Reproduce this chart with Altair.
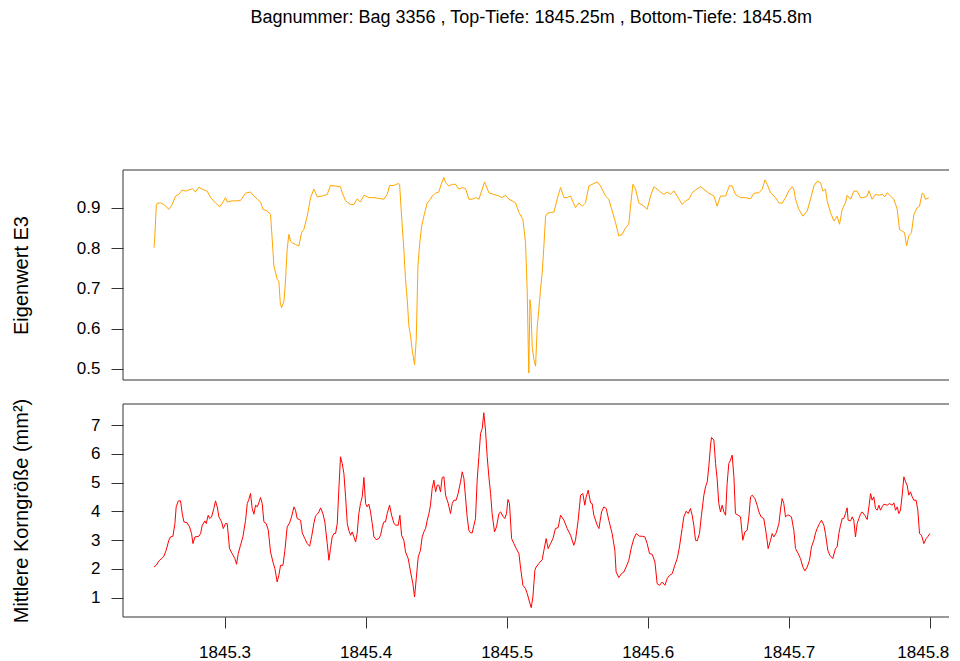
import altair as alt
import pandas as pd

FONT = "Liberation Sans"

title_text = "Bagnummer: Bag 3356 , Top-Tiefe: 1845.25m , Bottom-Tiefe: 1845.8m"
x_ticks = [1845.3, 1845.4, 1845.5, 1845.6, 1845.7, 1845.8]
top_ticks = [0.5, 0.6, 0.7, 0.8, 0.9]
bot_ticks = [1, 2, 3, 4, 5, 6, 7]

top_depth = [
    1845.2500, 1845.2505, 1845.2516, 1845.2523, 1845.2546, 1845.2570, 1845.2605, 1845.2629, 1845.2653, 1845.2676,
    1845.2700, 1845.2724, 1845.2747, 1845.2771, 1845.2794, 1845.2818, 1845.2842, 1845.2877, 1845.2901, 1845.2936,
    1845.2965, 1845.2983, 1845.3007, 1845.3019, 1845.3054, 1845.3090, 1845.3113, 1845.3149, 1845.3184, 1845.3208,
    1845.3232, 1845.3255, 1845.3272, 1845.3302, 1845.3326, 1845.3338, 1845.3350, 1845.3362, 1845.3373, 1845.3385,
    1845.3395, 1845.3404, 1845.3421, 1845.3432, 1845.3444, 1845.3456, 1845.3468, 1845.3480, 1845.3503, 1845.3527,
    1845.3546, 1845.3562, 1845.3586, 1845.3610, 1845.3633, 1845.3657, 1845.3692, 1845.3728, 1845.3751, 1845.3787,
    1845.3822, 1845.3834, 1845.3858, 1845.3893, 1845.3917, 1845.3940, 1845.3964, 1845.3988, 1845.4023, 1845.4059,
    1845.4094, 1845.4130, 1845.4153, 1845.4170, 1845.4200, 1845.4231, 1845.4241, 1845.4255, 1845.4271, 1845.4283,
    1845.4295, 1845.4307, 1845.4319, 1845.4330, 1845.4347, 1845.4359, 1845.4371, 1845.4382, 1845.4397, 1845.4413,
    1845.4437, 1845.4460, 1845.4472, 1845.4496, 1845.4519, 1845.4536, 1845.4555, 1845.4567, 1845.4590, 1845.4614,
    1845.4638, 1845.4661, 1845.4685, 1845.4709, 1845.4732, 1845.4756, 1845.4779, 1845.4803, 1845.4827, 1845.4843,
    1845.4850, 1845.4874, 1845.4909, 1845.4945, 1845.4968, 1845.4992, 1845.5016, 1845.5039, 1845.5063, 1845.5087,
    1845.5115, 1845.5134, 1845.5146, 1845.5153, 1845.5157, 1845.5165, 1845.5172, 1845.5181, 1845.5193, 1845.5205,
    1845.5217, 1845.5228, 1845.5240, 1845.5252, 1845.5264, 1845.5276, 1845.5288, 1845.5311, 1845.5335, 1845.5358,
    1845.5382, 1845.5406, 1845.5429, 1845.5453, 1845.5488, 1845.5512, 1845.5536, 1845.5559, 1845.5583, 1845.5618,
    1845.5642, 1845.5665, 1845.5701, 1845.5724, 1845.5748, 1845.5772, 1845.5795, 1845.5819, 1845.5843, 1845.5866,
    1845.5878, 1845.5895, 1845.5914, 1845.5937, 1845.5973, 1845.5996, 1845.6020, 1845.6044, 1845.6067, 1845.6091,
    1845.6114, 1845.6138, 1845.6162, 1845.6185, 1845.6209, 1845.6244, 1845.6268, 1845.6292, 1845.6315, 1845.6339,
    1845.6374, 1845.6398, 1845.6433, 1845.6469, 1845.6492, 1845.6516, 1845.6552, 1845.6580, 1845.6599, 1845.6622,
    1845.6658, 1845.6693, 1845.6729, 1845.6753, 1845.6788, 1845.6812, 1845.6831, 1845.6847, 1845.6871, 1845.6906,
    1845.6930, 1845.6953, 1845.6977, 1845.7001, 1845.7024, 1845.7036, 1845.7048, 1845.7072, 1845.7100, 1845.7131,
    1845.7154, 1845.7178, 1845.7202, 1845.7225, 1845.7242, 1845.7260, 1845.7272, 1845.7296, 1845.7320, 1845.7343,
    1845.7360, 1845.7379, 1845.7402, 1845.7414, 1845.7438, 1845.7461, 1845.7485, 1845.7509, 1845.7532, 1845.7556,
    1845.7568, 1845.7591, 1845.7615, 1845.7639, 1845.7662, 1845.7681, 1845.7698, 1845.7721, 1845.7745, 1845.7769,
    1845.7785, 1845.7804, 1845.7821, 1845.7835, 1845.7851, 1845.7870, 1845.7887, 1845.7910, 1845.7927, 1845.7946,
    1845.7958, 1845.7969, 1845.7993,
]
top_e3 = [
    0.801, 0.826, 0.906, 0.911, 0.912, 0.908, 0.896, 0.908, 0.929, 0.933,
    0.944, 0.941, 0.944, 0.947, 0.939, 0.951, 0.946, 0.941, 0.925, 0.912,
    0.902, 0.911, 0.925, 0.914, 0.917, 0.917, 0.918, 0.936, 0.939, 0.929,
    0.921, 0.914, 0.896, 0.892, 0.883, 0.821, 0.755, 0.739, 0.722, 0.718,
    0.664, 0.652, 0.668, 0.718, 0.797, 0.834, 0.817, 0.813, 0.809, 0.805,
    0.838, 0.846, 0.879, 0.925, 0.946, 0.927, 0.929, 0.933, 0.955, 0.954,
    0.952, 0.937, 0.917, 0.908, 0.908, 0.922, 0.914, 0.931, 0.925, 0.925,
    0.923, 0.921, 0.933, 0.955, 0.955, 0.960, 0.958, 0.879, 0.797, 0.722,
    0.672, 0.606, 0.581, 0.548, 0.511, 0.573, 0.755, 0.805, 0.854, 0.879,
    0.912, 0.921, 0.929, 0.936, 0.939, 0.958, 0.975, 0.962, 0.954, 0.958,
    0.958, 0.946, 0.950, 0.947, 0.921, 0.921, 0.925, 0.921, 0.946, 0.964,
    0.958, 0.937, 0.933, 0.929, 0.925, 0.931, 0.921, 0.917, 0.912, 0.888,
    0.871, 0.813, 0.689, 0.556, 0.490, 0.672, 0.648, 0.556, 0.523, 0.507,
    0.606, 0.648, 0.697, 0.739, 0.805, 0.879, 0.886, 0.888, 0.889, 0.921,
    0.950, 0.925, 0.925, 0.929, 0.900, 0.912, 0.904, 0.912, 0.954, 0.960,
    0.964, 0.954, 0.929, 0.921, 0.892, 0.863, 0.830, 0.834, 0.850, 0.859,
    0.904, 0.958, 0.946, 0.912, 0.904, 0.896, 0.929, 0.952, 0.946, 0.939,
    0.933, 0.939, 0.933, 0.942, 0.929, 0.908, 0.917, 0.921, 0.937, 0.944,
    0.952, 0.946, 0.936, 0.929, 0.904, 0.929, 0.929, 0.955, 0.954, 0.933,
    0.925, 0.925, 0.922, 0.936, 0.937, 0.946, 0.969, 0.958, 0.937, 0.925,
    0.912, 0.911, 0.925, 0.942, 0.952, 0.946, 0.921, 0.896, 0.879, 0.892,
    0.921, 0.954, 0.966, 0.962, 0.941, 0.946, 0.917, 0.888, 0.867, 0.879,
    0.859, 0.896, 0.912, 0.931, 0.921, 0.941, 0.941, 0.925, 0.925, 0.929,
    0.942, 0.921, 0.933, 0.931, 0.933, 0.927, 0.937, 0.929, 0.921, 0.896,
    0.846, 0.842, 0.838, 0.805, 0.830, 0.838, 0.883, 0.900, 0.904, 0.936,
    0.933, 0.921, 0.925,
]

bot_depth = [
    1845.2500, 1845.2516, 1845.2530, 1845.2539, 1845.2553, 1845.2570, 1845.2586, 1845.2605, 1845.2617, 1845.2634,
    1845.2648, 1845.2657, 1845.2672, 1845.2688, 1845.2700, 1845.2712, 1845.2735, 1845.2752, 1845.2766, 1845.2776,
    1845.2790, 1845.2818, 1845.2830, 1845.2842, 1845.2861, 1845.2870, 1845.2884, 1845.2894, 1845.2908, 1845.2924,
    1845.2936, 1845.2948, 1845.2960, 1845.2979, 1845.2991, 1845.3007, 1845.3019, 1845.3035, 1845.3054, 1845.3073,
    1845.3085, 1845.3097, 1845.3113, 1845.3130, 1845.3149, 1845.3161, 1845.3172, 1845.3184, 1845.3196, 1845.3208,
    1845.3220, 1845.3232, 1845.3243, 1845.3255, 1845.3267, 1845.3279, 1845.3295, 1845.3310, 1845.3326, 1845.3343,
    1845.3357, 1845.3373, 1845.3385, 1845.3397, 1845.3414, 1845.3428, 1845.3444, 1845.3461, 1845.3475, 1845.3492,
    1845.3503, 1845.3515, 1845.3539, 1845.3551, 1845.3569, 1845.3586, 1845.3603, 1845.3617, 1845.3633, 1845.3645,
    1845.3657, 1845.3669, 1845.3681, 1845.3697, 1845.3711, 1845.3728, 1845.3740, 1845.3751, 1845.3763, 1845.3775,
    1845.3787, 1845.3799, 1845.3810, 1845.3822, 1845.3834, 1845.3846, 1845.3858, 1845.3870, 1845.3881, 1845.3893,
    1845.3905, 1845.3917, 1845.3929, 1845.3940, 1845.3952, 1845.3964, 1845.3976, 1845.3988, 1845.4000, 1845.4011,
    1845.4023, 1845.4035, 1845.4047, 1845.4059, 1845.4075, 1845.4094, 1845.4106, 1845.4118, 1845.4130, 1845.4141,
    1845.4153, 1845.4170, 1845.4184, 1845.4200, 1845.4212, 1845.4231, 1845.4243, 1845.4255, 1845.4271, 1845.4283,
    1845.4302, 1845.4319, 1845.4335, 1845.4347, 1845.4359, 1845.4373, 1845.4389, 1845.4401, 1845.4413, 1845.4425,
    1845.4437, 1845.4449, 1845.4460, 1845.4472, 1845.4484, 1845.4496, 1845.4508, 1845.4519, 1845.4531, 1845.4543,
    1845.4555, 1845.4567, 1845.4586, 1845.4602, 1845.4614, 1845.4626, 1845.4642, 1845.4656, 1845.4673, 1845.4685,
    1845.4697, 1845.4708, 1845.4720, 1845.4732, 1845.4744, 1845.4756, 1845.4768, 1845.4779, 1845.4791, 1845.4803,
    1845.4815, 1845.4827, 1845.4838, 1845.4850, 1845.4862, 1845.4874, 1845.4886, 1845.4897, 1845.4914, 1845.4928,
    1845.4945, 1845.4957, 1845.4973, 1845.4987, 1845.4999, 1845.5009, 1845.5020, 1845.5035, 1845.5051, 1845.5068,
    1845.5087, 1845.5098, 1845.5115, 1845.5134, 1845.5146, 1845.5162, 1845.5174, 1845.5186, 1845.5200, 1845.5209,
    1845.5228, 1845.5252, 1845.5264, 1845.5280, 1845.5294, 1845.5311, 1845.5328, 1845.5346, 1845.5365, 1845.5382,
    1845.5406, 1845.5429, 1845.5453, 1845.5476, 1845.5488, 1845.5507, 1845.5524, 1845.5540, 1845.5554, 1845.5564,
    1845.5578, 1845.5595, 1845.5606, 1845.5618, 1845.5642, 1845.5654, 1845.5673, 1845.5689, 1845.5706, 1845.5724,
    1845.5748, 1845.5767, 1845.5776, 1845.5795, 1845.5814, 1845.5831, 1845.5847, 1845.5866, 1845.5885, 1845.5902,
    1845.5918, 1845.5942, 1845.5961, 1845.5980, 1845.5996, 1845.6013, 1845.6032, 1845.6051, 1845.6067, 1845.6084,
    1845.6103, 1845.6122, 1845.6138, 1845.6155, 1845.6174, 1845.6192, 1845.6209, 1845.6225, 1845.6244, 1845.6256,
    1845.6273, 1845.6287, 1845.6303, 1845.6315, 1845.6327, 1845.6339, 1845.6351, 1845.6367, 1845.6381, 1845.6398,
    1845.6410, 1845.6422, 1845.6433, 1845.6445, 1845.6452, 1845.6469, 1845.6481, 1845.6492, 1845.6504, 1845.6516,
    1845.6528, 1845.6540, 1845.6552, 1845.6563, 1845.6575, 1845.6587, 1845.6599, 1845.6611, 1845.6622, 1845.6641,
    1845.6658, 1845.6674, 1845.6689, 1845.6705, 1845.6717, 1845.6729, 1845.6741, 1845.6760, 1845.6776, 1845.6788,
    1845.6804, 1845.6823, 1845.6840, 1845.6854, 1845.6871, 1845.6882, 1845.6894, 1845.6911, 1845.6930, 1845.6941,
    1845.6953, 1845.6965, 1845.6977, 1845.6989, 1845.7001, 1845.7019, 1845.7036, 1845.7048, 1845.7067, 1845.7083,
    1845.7100, 1845.7114, 1845.7131, 1845.7147, 1845.7161, 1845.7178, 1845.7190, 1845.7201, 1845.7218, 1845.7232,
    1845.7249, 1845.7260, 1845.7277, 1845.7291, 1845.7312, 1845.7331, 1845.7343, 1845.7355, 1845.7367, 1845.7379,
    1845.7390, 1845.7402, 1845.7414, 1845.7421, 1845.7438, 1845.7450, 1845.7461, 1845.7473, 1845.7485, 1845.7497,
    1845.7509, 1845.7520, 1845.7539, 1845.7556, 1845.7568, 1845.7580, 1845.7591, 1845.7603, 1845.7615, 1845.7627,
    1845.7639, 1845.7650, 1845.7662, 1845.7674, 1845.7698, 1845.7714, 1845.7733, 1845.7745, 1845.7757, 1845.7769,
    1845.7780, 1845.7792, 1845.7804, 1845.7816, 1845.7828, 1845.7839, 1845.7851, 1845.7863, 1845.7875, 1845.7887,
    1845.7903, 1845.7915, 1845.7927, 1845.7941, 1845.7958, 1845.7974, 1845.7988, 1845.8000,
]
bot_size = [
    2.067, 2.125, 2.241, 2.299, 2.357, 2.439, 2.647, 2.995, 3.111, 3.135,
    3.575, 4.155, 4.364, 4.364, 3.923, 3.633, 3.599, 3.459, 3.227, 2.879,
    3.111, 3.135, 3.227, 3.517, 3.668, 3.575, 3.865, 3.749, 3.807, 4.097,
    4.364, 4.155, 3.807, 3.633, 3.401, 3.575, 3.575, 2.705, 2.531, 2.357,
    2.160, 2.531, 2.821, 3.111, 3.691, 4.271, 4.411, 4.619, 4.097, 3.900,
    4.213, 4.155, 4.295, 4.480, 4.271, 3.633, 3.575, 3.343, 2.589, 2.241,
    2.009, 1.545, 1.777, 2.125, 2.125, 2.647, 3.459, 3.599, 3.807, 4.155,
    4.039, 3.749, 3.691, 3.251, 3.053, 2.879, 2.787, 3.111, 3.575, 3.842,
    3.900, 3.981, 4.121, 3.923, 3.633, 2.879, 2.299, 2.705, 3.111, 3.227,
    3.227, 3.575, 4.735, 5.896, 5.664, 5.316, 4.503, 3.575, 3.343, 3.169,
    3.285, 3.111, 2.937, 3.227, 3.923, 4.271, 4.503, 5.176, 4.271, 4.155,
    4.248, 3.981, 3.575, 3.111, 3.019, 3.053, 3.169, 3.459, 3.633, 3.633,
    3.923, 4.213, 3.865, 3.599, 3.517, 3.517, 3.865, 3.169, 2.995, 2.589,
    2.357, 1.893, 1.487, 1.023, 1.661, 2.415, 2.647, 3.111, 3.285, 3.401,
    3.691, 3.923, 4.213, 4.794, 5.084, 4.677, 4.910, 4.910, 4.677, 5.176,
    5.200, 4.561, 4.271, 3.923, 4.271, 4.387, 4.387, 4.619, 5.026, 5.374,
    5.142, 4.503, 3.807, 3.343, 3.251, 3.251, 3.517, 3.749, 5.084, 5.896,
    6.708, 6.882, 7.427, 6.824, 5.896, 5.200, 4.619, 3.923, 3.285, 3.459,
    3.923, 3.981, 3.831, 3.749, 3.923, 4.411, 4.271, 3.053, 2.879, 2.705,
    2.531, 2.067, 1.429, 1.313, 1.139, 0.849, 0.652, 1.023, 1.951, 2.067,
    2.183, 2.323, 2.647, 3.053, 2.705, 2.879, 3.053, 3.401, 3.436, 3.865,
    3.691, 3.401, 3.169, 2.821, 2.995, 3.691, 4.561, 4.619, 4.213, 4.503,
    4.735, 4.295, 4.271, 3.865, 3.517, 3.401, 3.981, 4.155, 4.097, 3.691,
    3.227, 2.647, 1.893, 1.696, 1.835, 1.893, 2.067, 2.299, 2.763, 3.053,
    3.227, 3.135, 3.135, 3.111, 2.879, 2.531, 2.508, 2.241, 1.487, 1.429,
    1.545, 1.429, 1.661, 1.777, 1.835, 2.125, 2.357, 2.763, 3.401, 3.807,
    4.005, 3.923, 4.097, 3.865, 3.517, 2.995, 2.972, 3.227, 3.865, 4.561,
    4.852, 5.026, 5.548, 6.267, 6.568, 6.476, 5.664, 5.142, 4.271, 3.981,
    4.213, 3.981, 3.865, 4.968, 5.664, 5.780, 5.954, 5.200, 3.923, 3.865,
    3.807, 2.995, 3.285, 3.343, 3.807, 4.503, 4.561, 4.445, 4.213, 3.981,
    3.807, 3.749, 3.227, 2.705, 2.995, 3.227, 3.111, 3.251, 3.575, 4.039,
    4.445, 4.271, 3.807, 3.865, 3.865, 3.807, 3.343, 2.705, 2.531, 2.357,
    2.067, 1.928, 2.067, 2.299, 2.763, 2.995, 3.251, 3.401, 3.575, 3.691,
    3.517, 3.227, 2.647, 2.473, 2.357, 2.705, 2.763, 3.227, 3.517, 3.749,
    3.749, 3.923, 4.121, 3.691, 3.668, 3.807, 3.691, 3.111, 3.575, 3.749,
    3.900, 3.981, 3.865, 3.715, 4.155, 4.619, 4.387, 4.503, 4.097, 4.039,
    4.213, 4.039, 4.155, 4.248, 4.213, 4.271, 4.213, 4.295, 4.039, 4.155,
    3.923, 4.039, 4.561, 5.200, 5.026, 4.910, 4.561, 4.677, 4.503, 4.387,
    4.387, 4.039, 3.227, 3.169, 2.879, 3.053, 3.135, 3.227,
]

assert len(top_depth) == len(top_e3), (len(top_depth), len(top_e3))
assert len(bot_depth) == len(bot_size), (len(bot_depth), len(bot_size))

df_top = pd.DataFrame({"depth": top_depth, "e3": top_e3})
df_bot = pd.DataFrame({"depth": bot_depth, "size": bot_size})
frame_df = pd.DataFrame({"k": [0]})

W = 826
H_TOP = 210
H_BOT = 213
FRAME = "#333333"

x_scale = alt.Scale(domain=[1845.228, 1845.8136], nice=False, zero=False)


def frame(h):
    base = alt.Chart(frame_df)
    top_line = base.mark_rule(color=FRAME, strokeWidth=1).encode(
        x=alt.value(0), x2=alt.value(W), y=alt.value(0))
    bottom_line = base.mark_rule(color=FRAME, strokeWidth=1).encode(
        x=alt.value(0), x2=alt.value(W), y=alt.value(h))
    left_line = base.mark_rule(color=FRAME, strokeWidth=1).encode(
        x=alt.value(0), y=alt.value(0), y2=alt.value(h))
    return [top_line, bottom_line, left_line]


top_line_chart = alt.Chart(df_top).mark_line(color="#FFA500", strokeWidth=1).encode(
    x=alt.X("depth:Q", scale=x_scale, axis=None),
    y=alt.Y("e3:Q",
            scale=alt.Scale(domain=[0.4727, 0.9935], nice=False, zero=False),
            axis=alt.Axis(title="Eigenwert E3", values=top_ticks, format=".1f")),
)
top = alt.layer(top_line_chart, *frame(H_TOP)).properties(width=W, height=H_TOP)

bot_line_chart = alt.Chart(df_bot).mark_line(color="#FF0000", strokeWidth=1).encode(
    x=alt.X("depth:Q", scale=x_scale,
            axis=alt.Axis(title=None, values=x_ticks, format=".1f",
                          labelOffset={"condition": {"test": "datum.value > 1845.75", "value": -7},
                                       "value": 0})),
    y=alt.Y("size:Q",
            scale=alt.Scale(domain=[0.328, 7.73], nice=False, zero=False),
            axis=alt.Axis(title="Mittlere Korngröße (mm²)", values=bot_ticks, format="d")),
)
bot = alt.layer(bot_line_chart, *frame(H_BOT)).properties(width=W, height=H_BOT)

chart = alt.vconcat(
    top, bot,
    spacing=24,
    bounds="flush",
    padding={"left": 2, "top": 0, "right": 0, "bottom": 0},
    title=alt.TitleParams(
        text=title_text, font=FONT, fontSize=18, fontWeight="normal",
        color="#000000", anchor="middle", dx=51, offset=143,
    ),
).configure_view(
    stroke=None
).configure_axis(
    domain=False, grid=False, tickColor=FRAME, tickWidth=1,
    labelFont=FONT, labelFontSize=17, labelColor="#000000",
    titleFont=FONT, titleFontSize=20, titleFontWeight="normal", titleColor="#000000",
).configure_axisY(
    tickSize=12, labelPadding=11, titleX=-96, titleBaseline="alphabetic",
).configure_axisX(
    tickSize=11, labelPadding=16,
)

chart.save("out.html", embed_options={"renderer": "svg", "actions": False})
